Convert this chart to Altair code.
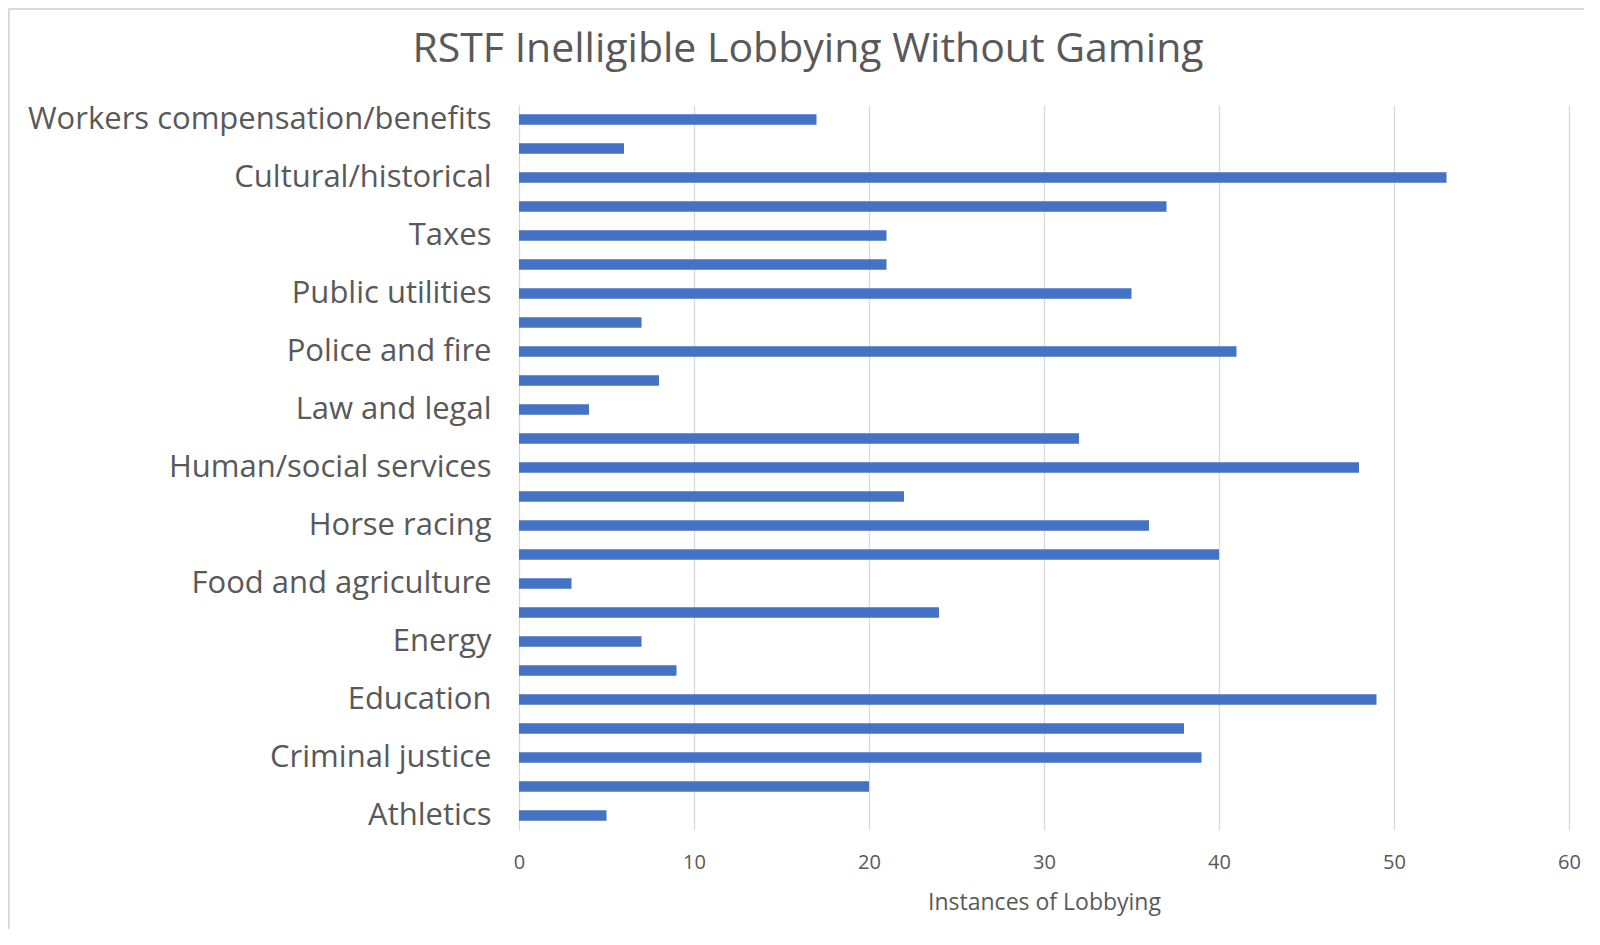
import json
import altair as alt
import pandas as pd

# Categories, top to bottom as drawn (only every other one carries a visible label)
labels = [
    "Workers compensation/benefits", "", "Cultural/historical", "", "Taxes", "",
    "Public utilities", "", "Police and fire", "", "Law and legal", "",
    "Human/social services", "", "Horse racing", "", "Food and agriculture", "",
    "Energy", "", "Education", "", "Criminal justice", "", "Athletics",
]
values = [17, 6, 53, 37, 21, 21, 35, 7, 41, 8, 4, 32, 48, 22, 36, 40, 3, 24, 7, 9, 49, 38, 39, 20, 5]
x_ticks = [0, 10, 20, 30, 40, 50, 60]
title_text = ["RSTF Inelligible Lobbying Without Gaming"]

df = pd.DataFrame({"pos": list(range(len(values))), "label": labels, "value": values})
title_df = pd.DataFrame({"t": title_text})

W, H = 1050, 725
PL, PT, PR, PB = 511, 97, 15, 99
TEXT = "#595959"
GRID = "#D9D9D9"

label_expr = json.dumps(labels) + "[datum.value]"

bars = alt.Chart(df).mark_bar(size=10.5, color="#4472C4").encode(
    y=alt.Y("pos:O", scale=alt.Scale(paddingInner=0, paddingOuter=0),
            axis=alt.Axis(title=None, labelExpr=label_expr, domain=False, ticks=False,
                          labelFont="Open Sans", labelFontSize=31, labelColor=TEXT,
                          labelPadding=28, labelLimit=600)),
    x=alt.X("value:Q", scale=alt.Scale(domain=[0, 60], nice=False),
            axis=alt.Axis(title="Instances of Lobbying", values=x_ticks, domain=False, ticks=False,
                          grid=True, gridColor=GRID, gridWidth=1.3, labelFlush=False,
                          labelFont="Open Sans", labelFontSize=20, labelColor=TEXT, labelPadding=22,
                          titleFont="Open Sans", titleFontSize=23, titleFontWeight="normal",
                          titleColor=TEXT, titlePadding=19)),
)

border_left = alt.Chart(df).mark_rule(color=GRID, strokeWidth=1.5).encode(
    x=alt.value(-PL + 0.75), y=alt.value(-PT + 0.75), y2=alt.value(H + PB)
)
border_top = alt.Chart(df).mark_rule(color=GRID, strokeWidth=1.5).encode(
    x=alt.value(-PL + 0.75), x2=alt.value(W + PR), y=alt.value(-PT + 0.75)
)

title = alt.Chart(title_df).mark_text(
    font="Open Sans", fontSize=41, color=TEXT, align="center", baseline="middle"
).encode(text="t:N", x=alt.value(289), y=alt.value(-55))

chart = alt.layer(border_left, border_top, title, bars).properties(
    width=W, height=H,
    autosize=alt.AutoSizeParams(type="none"),
    padding={"left": PL, "top": PT, "right": PR, "bottom": PB},
).configure_view(stroke=None)

chart.save("out.html", embed_options={"renderer": "svg", "actions": False})
